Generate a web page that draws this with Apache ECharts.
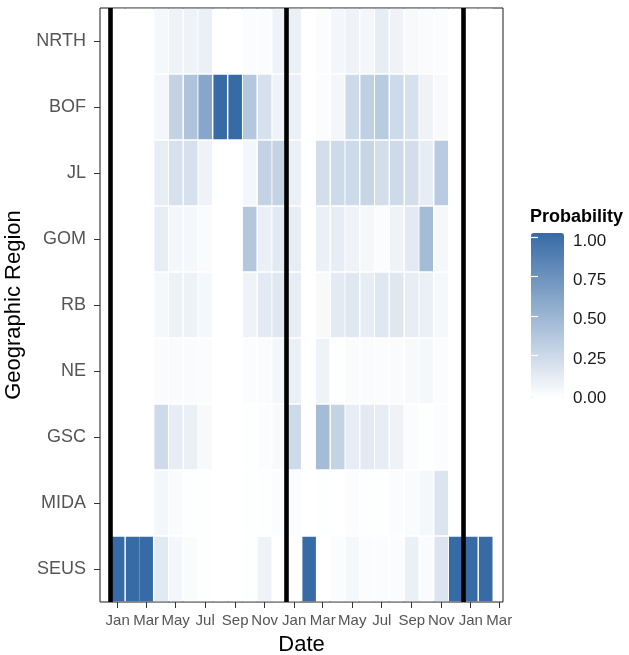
<!DOCTYPE html>
<html>
<head>
<meta charset="utf-8">
<title>Probability by Geographic Region</title>
<script src="https://cdn.jsdelivr.net/npm/echarts@6/dist/echarts.min.js"></script>
<style>
  html, body { margin: 0; padding: 0; background: #ffffff; }
  #chart { width: 629px; height: 655px; }
</style>
</head>
<body>
<div id="chart"></div>
<script>
// Regions, top row first
var regions = ['NRTH', 'BOF', 'JL', 'GOM', 'RB', 'NE', 'GSC', 'MIDA', 'SEUS'];

// One column per month (tile centred on the first of the month)
var months = [
  '2013-01-01', '2013-02-01', '2013-03-01', '2013-04-01', '2013-05-01', '2013-06-01',
  '2013-07-01', '2013-08-01', '2013-09-01', '2013-10-01', '2013-11-01', '2013-12-01',
  '2014-01-01', '2014-02-01', '2014-03-01', '2014-04-01', '2014-05-01', '2014-06-01',
  '2014-07-01', '2014-08-01', '2014-09-01', '2014-10-01', '2014-11-01', '2014-12-01',
  '2015-01-01', '2015-02-01'
];

// Monthly probability per region, same order as months
var NRTH = [0, 0, 0, 0.05, 0.08, 0.08, 0.10, 0, 0, 0.02, 0.02, 0.08,
            0.10, 0, 0.02, 0.06, 0.08, 0.06, 0.12, 0.08, 0.04, 0.03, 0.02, 0, 0, 0];
var BOF  = [0, 0, 0, 0.06, 0.30, 0.40, 0.60, 1.00, 1.00, 0.38, 0.20, 0.08,
            0.10, 0, 0.02, 0.06, 0.25, 0.32, 0.35, 0.25, 0.20, 0.08, 0.04, 0, 0, 0];
var JL   = [0, 0, 0, 0.12, 0.20, 0.20, 0.08, 0, 0, 0.06, 0.30, 0.30,
            0.10, 0, 0.22, 0.25, 0.25, 0.28, 0.22, 0.25, 0.22, 0.12, 0.35, 0, 0, 0];
var GOM  = [0, 0, 0, 0.12, 0.06, 0.05, 0.03, 0, 0, 0.38, 0.10, 0.15,
            0.12, 0, 0.10, 0.12, 0.08, 0.05, 0.02, 0.08, 0.14, 0.45, 0.05, 0, 0, 0];
var RB   = [0, 0, 0, 0.05, 0.09, 0.09, 0.05, 0, 0, 0.08, 0.14, 0.16,
            0.12, 0, 0.04, 0.14, 0.16, 0.12, 0.16, 0.16, 0.12, 0.10, 0.05, 0, 0, 0];
var NE   = [0, 0, 0, 0.03, 0.03, 0.03, 0.02, 0, 0, 0.02, 0.03, 0.06,
            0.10, 0, 0.08, 0.01, 0.03, 0.03, 0.02, 0.03, 0.04, 0.05, 0.02, 0, 0, 0];
var GSC  = [0, 0, 0, 0.25, 0.12, 0.10, 0.04, 0, 0, 0.01, 0.02, 0.04,
            0.25, 0, 0.45, 0.30, 0.12, 0.14, 0.12, 0.08, 0.02, 0.01, 0.02, 0, 0, 0];
var MIDA = [0, 0, 0, 0.06, 0.03, 0.01, 0.01, 0, 0, 0.01, 0.01, 0.02,
            0.02, 0, 0.01, 0, 0.02, 0.01, 0.01, 0.02, 0.03, 0.05, 0.18, 0, 0, 0];
var SEUS = [1.00, 1.00, 1.00, 0.15, 0.06, 0.03, 0.01, 0, 0, 0.01, 0.08, 0,
            0, 1.00, 0, 0.02, 0.05, 0.02, 0.02, 0.02, 0.10, 0.03, 0.18, 1.00, 1.00, 1.00];

// Season boundaries drawn as vertical rules
var seasonBreaks = ['2012-12-16', '2013-12-16', '2014-12-16'];

// Date axis range and tick positions
var dateMin = '2012-11-25 13:00';
var dateMax = '2015-03-08 17:00';
var dateTicks = [
  '2013-01-01', '2013-03-01', '2013-05-01', '2013-07-01', '2013-09-01', '2013-11-01',
  '2014-01-01', '2014-03-01', '2014-05-01', '2014-07-01', '2014-09-01', '2014-11-01',
  '2015-01-01', '2015-03-01'
];
var monthNames = ['Jan', 'Feb', 'Mar', 'Apr', 'May', 'Jun', 'Jul', 'Aug', 'Sep', 'Oct', 'Nov', 'Dec'];

// 'YYYY-MM-DD[ HH:MM]' -> ms timestamp
function toTime(s) {
  var parts = s.split(' ');
  var d = parts[0].split('-').map(Number);
  var hm = parts[1] ? parts[1].split(':').map(Number) : [0, 0];
  return Date.UTC(d[0], d[1] - 1, d[2], hm[0], hm[1]);
}
function monthLabel(v) {
  return monthNames[new Date(v).getUTCMonth()];
}

var valuesByRegion = { NRTH: NRTH, BOF: BOF, JL: JL, GOM: GOM, RB: RB, NE: NE, GSC: GSC, MIDA: MIDA, SEUS: SEUS };

var cells = [];
regions.forEach(function (r, ri) {
  valuesByRegion[r].forEach(function (v, mi) {
    cells.push([toTime(months[mi]), ri, v]);
  });
});

var HALF_TILE = 14 * 24 * 3600 * 1000; // tiles are 28 days wide
var ROW_GAP = 0.65;                    // white gap above/below each tile, px
var FONT = '"Liberation Sans", Arial, Helvetica, sans-serif';
var tickTimes = dateTicks.map(toTime);

var chart = echarts.init(document.getElementById('chart'), null, { renderer: 'canvas' });

chart.setOption({
  animation: false,
  backgroundColor: '#ffffff',
  textStyle: { fontFamily: FONT },
  title: {
    text: 'Probability',
    left: 530,
    top: 208,
    padding: 0,
    textStyle: { fontFamily: FONT, fontSize: 18, fontWeight: 'bold', color: '#000000' }
  },
  grid: [
    {
      left: 100, top: 8, width: 403, height: 594,
      outerBoundsMode: 'none',
      containLabel: false,
      show: true, borderColor: '#1a1a1a', borderWidth: 1, backgroundColor: '#ffffff'
    },
    // colour-bar tick marks
    { left: 531, top: 237.3, width: 33, height: 157, outerBoundsMode: 'none', containLabel: false },
    // colour-bar labels
    { left: 531, top: 241.3, width: 33, height: 157, outerBoundsMode: 'none', containLabel: false }
  ],
  xAxis: [
    {
      type: 'value',
      gridIndex: 0,
      min: toTime(dateMin),
      max: toTime(dateMax),
      scale: true,
      name: 'Date',
      nameLocation: 'middle',
      nameGap: 32,
      nameTextStyle: { fontFamily: FONT, fontSize: 22, color: '#000000' },
      axisLine: { show: false },
      splitLine: { show: false },
      axisTick: {
        show: true, length: 6, customValues: tickTimes,
        lineStyle: { color: '#333333', width: 1 }
      },
      axisLabel: {
        customValues: tickTimes,
        margin: 11,
        fontFamily: FONT,
        fontSize: 15,
        color: '#555555',
        formatter: monthLabel
      }
    },
    { type: 'value', gridIndex: 1, min: 0, max: 1, show: false },
    { type: 'value', gridIndex: 2, min: 0, max: 1, show: false }
  ],
  yAxis: [
    {
      type: 'category',
      gridIndex: 0,
      data: regions,
      inverse: true,
      name: 'Geographic Region',
      nameLocation: 'middle',
      nameGap: 71,
      nameTextStyle: { fontFamily: FONT, fontSize: 22, color: '#000000' },
      axisLine: { show: false },
      splitLine: { show: false },
      axisTick: { show: true, length: 6, alignWithLabel: true, lineStyle: { color: '#333333', width: 1 } },
      axisLabel: { margin: 14, fontFamily: FONT, fontSize: 18, color: '#555555' }
    },
    {
      type: 'value', gridIndex: 1, min: 0, max: 1, interval: 0.25,
      position: 'right', z: 10,
      axisLine: { show: false },
      splitLine: { show: false },
      axisLabel: { show: false },
      axisTick: { show: true, inside: true, length: 7, lineStyle: { color: '#ffffff', width: 1.2 } }
    },
    {
      type: 'value', gridIndex: 1, min: 0, max: 1, interval: 0.25,
      position: 'left', z: 10,
      axisLine: { show: false },
      splitLine: { show: false },
      axisLabel: { show: false },
      axisTick: { show: true, inside: true, length: 7, lineStyle: { color: '#ffffff', width: 1.2 } }
    },
    {
      type: 'value', gridIndex: 2, min: 0, max: 1, interval: 0.25,
      position: 'right', z: 10,
      axisLine: { show: false },
      splitLine: { show: false },
      axisTick: { show: false },
      axisLabel: {
        margin: 9, fontFamily: FONT, fontSize: 17, color: '#1a1a1a',
        formatter: function (v) { return v.toFixed(2); }
      }
    }
  ],
  visualMap: {
    type: 'continuous',
    min: 0,
    max: 1,
    dimension: 2,
    seriesIndex: 0,
    calculable: false,
    realtime: false,
    orient: 'vertical',
    left: 531,
    top: 233,
    padding: 0,
    itemWidth: 33,
    itemHeight: 165,
    inRange: { color: ['#ffffff', '#376ba6'] }
  },
  series: [
    {
      type: 'custom',
      xAxisIndex: 0,
      yAxisIndex: 0,
      data: cells,
      encode: { x: 0, y: 1 },
      renderItem: function (params, api) {
        var t = api.value(0);
        var row = api.value(1);
        var p0 = api.coord([t - HALF_TILE, row]);
        var p1 = api.coord([t + HALF_TILE, row]);
        var h = api.size([0, 1])[1];
        return {
          type: 'rect',
          shape: {
            x: p0[0],
            y: p0[1] - h / 2 + ROW_GAP,
            width: p1[0] - p0[0],
            height: h - 2 * ROW_GAP
          },
          style: { fill: api.visual('color') }
        };
      }
    },
    {
      type: 'line',
      xAxisIndex: 0,
      yAxisIndex: 0,
      data: [],
      silent: true,
      markLine: {
        silent: true,
        symbol: ['none', 'none'],
        label: { show: false },
        lineStyle: { color: '#000000', width: 4.6, type: 'solid' },
        emphasis: { disabled: true },
        data: seasonBreaks.map(function (d) { return { xAxis: toTime(d) }; })
      }
    }
  ]
});
</script>
</body>
</html>
